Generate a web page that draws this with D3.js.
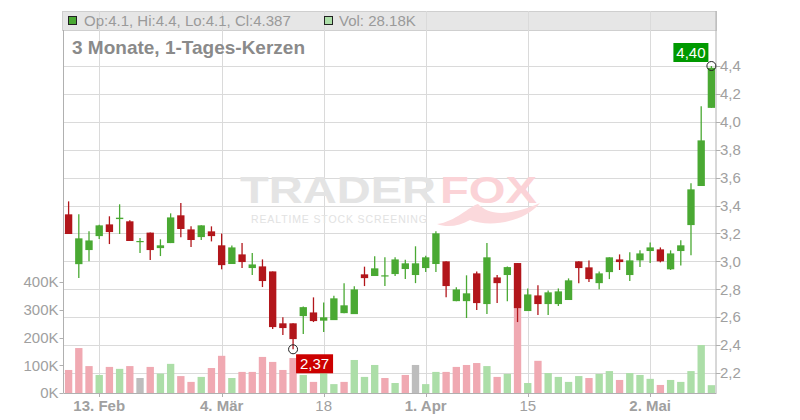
<!DOCTYPE html>
<html><head><meta charset="utf-8">
<script src="https://cdn.jsdelivr.net/npm/d3@7/dist/d3.min.js"></script>
<style>body{margin:0;background:#fff}svg{display:block;font-family:"Liberation Sans",Arial,sans-serif}</style>
</head><body><svg id="c" width="800" height="420"></svg>
<script>
const opens  = [3.337,2.98,3.081,3.181,3.265,3.303,3.287,3.14,3.206,3.095,3.131,3.33,3.229,3.174,3.215,3.115,2.981,3.05,2.952,2.964,2.928,2.556,2.556,2.608,2.634,2.575,2.579,2.629,2.622,2.907,2.895,2.895,2.909,2.945,2.902,2.952,2.981,3.0,2.715,2.715,2.914,2.694,2.885,2.902,2.988,2.644,2.756,2.694,2.694,2.723,3.0,2.957,2.844,2.923,3.014,2.902,3.007,3.074,3.086,2.943,3.074,3.26,3.54,4.1];
const highs  = [3.43,3.337,3.215,3.263,3.323,3.409,3.294,3.167,3.206,3.158,3.344,3.418,3.251,3.258,3.251,3.199,3.113,3.131,3.06,3.014,2.928,2.599,2.556,2.677,2.742,2.706,2.754,2.844,2.821,2.962,3.036,3.029,3.029,3.012,3.108,3.041,3.215,3.0,2.814,2.9,2.928,3.131,2.902,2.964,2.988,2.806,2.828,2.792,2.806,2.878,3.0,3.007,2.928,3.029,3.05,3.065,3.079,3.136,3.1,3.079,3.151,3.559,4.111,4.4];
const lows   = [3.196,2.88,3.0,3.16,3.124,3.196,3.146,3.06,3.009,3.038,3.131,3.172,3.103,3.153,3.143,2.943,2.981,2.952,2.902,2.816,2.515,2.472,2.37,2.479,2.565,2.493,2.579,2.629,2.622,2.823,2.895,2.823,2.895,2.873,2.844,2.923,2.923,2.742,2.715,2.594,2.651,2.622,2.701,2.715,2.565,2.644,2.615,2.615,2.68,2.723,2.844,2.852,2.801,2.873,2.938,2.859,2.959,2.988,2.993,2.938,2.971,3.043,3.54,4.1];
const closes = [3.196,3.165,3.15,3.258,3.21,3.313,3.146,3.146,3.081,3.115,3.315,3.232,3.153,3.258,3.181,2.973,3.1,2.995,2.978,2.859,2.529,2.522,2.443,2.672,2.572,2.599,2.735,2.685,2.799,2.88,2.95,2.9,3.014,2.986,2.986,3.029,3.201,2.823,2.799,2.771,2.701,3.029,2.844,2.959,2.665,2.763,2.694,2.778,2.785,2.864,2.952,2.873,2.914,3.029,2.995,3.007,3.057,3.1,3.0,3.057,3.115,3.516,3.867,4.387];
const volumes = [83,162,97,65,94,87,97,54,94,70,105,61,40,58,90,134,54,76,76,130,112,83,126,65,40,72,32,40,119,58,101,54,36,65,101,32,76,76,94,101,108,97,58,69,450,36,116,72,58,40,61,54,69,79,47,72,65,51,29,47,40,79,173,28.18].map(v=>v*1000);
const xTickIndex = [3,15,25,35,45,57];
const xTickLabels = ["13. Feb","4. Mär","18","1. Apr","15","2. Mai"];
const xTickBold = [true,true,false,true,false,true];
const priceTicks = [2.2,2.4,2.6,2.8,3.0,3.2,3.4,3.6,3.8,4.0,4.2,4.4];
const volTicks = [0,100000,200000,300000,400000];
const headerText = "Op:4.1, Hi:4.4, Lo:4.1, Cl:4.387";
const volText = "Vol: 28.18K";
const titleText = "3 Monate, 1-Tages-Kerzen";
const lowLabel = {i:22, v:2.37, text:"2,37"};
const highLabel = {i:63, v:4.40, text:"4,40"};

const n = closes.length;
const svg = d3.select("#c");
const L = 63.5, R = 716.5, TOP = 11, BOT = 393;
const x = d3.scaleBand().domain(d3.range(n)).range([L, R]).paddingInner(0.28).paddingOuter(0.14);
const y = d3.scaleLinear().domain([2.2, 4.4]).range([373, 66]);
const yv = d3.scaleLinear().domain([0, 400000]).range([BOT, 282]);
const cx = i => x(i) + x.bandwidth()/2;
const GREEN = "#4aa933", RED = "#b2161b";
const gridC = "#dadada", axisC = "#b0b0b0", txtC = "#a0a0a0";

// header band
svg.append("rect").attr("x", 62.5).attr("y", TOP+0.5).attr("width", R-62.5).attr("height", 19)
  .attr("fill", "#e6e6e6").attr("stroke", "#cfcfcf");

// grid
svg.append("g").selectAll("line").data(priceTicks).join("line")
  .attr("x1", L).attr("x2", R).attr("y1", d=>Math.round(y(d))+0.5).attr("y2", d=>Math.round(y(d))+0.5)
  .attr("stroke", gridC);
svg.append("g").selectAll("line").data(xTickIndex).join("line")
  .attr("x1", d=>Math.round(cx(d))+0.5).attr("x2", d=>Math.round(cx(d))+0.5)
  .attr("y1", TOP).attr("y2", BOT).attr("stroke", gridC);

// watermark
const wm = svg.append("g");
wm.append("text").attr("x", 240).attr("y", 203).attr("font-size", 37).attr("font-weight", "bold")
  .attr("fill", "#e4e4e4").attr("textLength", 196).attr("lengthAdjust", "spacingAndGlyphs").text("TRADER");
wm.append("text").attr("x", 440).attr("y", 203).attr("font-size", 37).attr("font-weight", "bold")
  .attr("fill", "#fbd3d7").attr("textLength", 97).attr("lengthAdjust", "spacingAndGlyphs").text("FOX");
wm.append("path").attr("d", "M437,224 C455,222 470,206 478,204 C488,214 505,218 540,203 C525,222 490,228 470,220 C460,226 447,228 437,224 Z")
  .attr("fill", "#fbd9dc");
wm.append("text").attr("x", 251).attr("y", 223).attr("font-size", 10.5).attr("fill", "#e2e2e2")
  .attr("textLength", 176).attr("lengthAdjust", "spacing").text("REALTIME STOCK SCREENING");

// volume bars
svg.append("g").selectAll("rect").data(volumes).join("rect")
  .attr("x", (d,i)=>x(i)).attr("width", x.bandwidth())
  .attr("y", d=>yv(d)).attr("height", d=>BOT-yv(d))
  .attr("fill", (d,i)=>{
    const ref = i===0 ? opens[0] : closes[i-1];
    const diff = closes[i]-ref;
    return Math.abs(diff) < 0.0005 ? "#bdbdbd" : diff > 0 ? "#acdea8" : "#f0a9b2";
  });

// candles
const cg = svg.append("g");
d3.range(n).forEach(i=>{
  const up = closes[i] >= opens[i];
  const col = up ? GREEN : RED;
  cg.append("line").attr("x1", cx(i)).attr("x2", cx(i)).attr("y1", y(highs[i])).attr("y2", y(lows[i]))
    .attr("stroke", col).attr("stroke-width", 1.3);
  const top = y(Math.max(opens[i], closes[i])), bot = y(Math.min(opens[i], closes[i]));
  cg.append("rect").attr("x", x(i)).attr("width", x.bandwidth()).attr("y", top).attr("height", Math.max(1.2, bot-top))
    .attr("fill", col);
});

// axes
svg.append("line").attr("x1", L).attr("x2", L).attr("y1", 30).attr("y2", BOT).attr("stroke", axisC);
svg.append("line").attr("x1", R-0.5).attr("x2", R-0.5).attr("y1", TOP).attr("y2", BOT).attr("stroke", axisC);
svg.append("line").attr("x1", L).attr("x2", R).attr("y1", BOT+0.5).attr("y2", BOT+0.5).attr("stroke", axisC);

// right price axis
const pa = svg.append("g");
pa.selectAll("line").data(priceTicks).join("line")
  .attr("x1", R-0.5).attr("x2", R+4).attr("y1", d=>Math.round(y(d))+0.5).attr("y2", d=>Math.round(y(d))+0.5).attr("stroke", axisC);
pa.selectAll("text").data(priceTicks).join("text")
  .attr("x", 720).attr("y", d=>y(d)).attr("dy", "0.35em").attr("font-size", 15).attr("fill", txtC)
  .text(d=>d3.format(".1f")(d).replace(".", ","));

// left volume axis
const va = svg.append("g");
va.selectAll("line").data(volTicks).join("line")
  .attr("x1", L-4).attr("x2", L).attr("y1", d=>Math.round(yv(d))+0.5).attr("y2", d=>Math.round(yv(d))+0.5).attr("stroke", axisC);
va.selectAll("text").data(volTicks).join("text")
  .attr("x", 58.5).attr("y", d=>yv(d)).attr("dy", "0.35em").attr("text-anchor", "end").attr("font-size", 15).attr("fill", txtC)
  .text(d=>(d/1000)+"K");

// bottom axis
const xa = svg.append("g");
xa.selectAll("line").data(xTickIndex).join("line")
  .attr("x1", d=>Math.round(cx(d))+0.5).attr("x2", d=>Math.round(cx(d))+0.5).attr("y1", BOT).attr("y2", BOT+4).attr("stroke", axisC);
xa.selectAll("text").data(xTickIndex).join("text")
  .attr("x", d=>cx(d)).attr("y", 411).attr("text-anchor", "middle").attr("font-size", 15)
  .attr("font-weight", (d,k)=>xTickBold[k] ? "bold" : "normal").attr("fill", txtC)
  .text((d,k)=>xTickLabels[k]);

// header content
svg.append("rect").attr("x", 68.5).attr("y", 16.5).attr("width", 8).attr("height", 8).attr("fill", GREEN).attr("stroke", "#222");
svg.append("text").attr("x", 84).attr("y", 26).attr("font-size", 15).attr("fill", "#9a9a9a").text(headerText);
svg.append("rect").attr("x", 324.5).attr("y", 16.5).attr("width", 8).attr("height", 8).attr("fill", "#acdea8").attr("stroke", "#222");
svg.append("text").attr("x", 339).attr("y", 26).attr("font-size", 15).attr("fill", "#9a9a9a").text(volText);
svg.append("text").attr("x", 72).attr("y", 53.5).attr("font-size", 19).attr("font-weight", "bold").attr("fill", "#8a8a8a").text(titleText);

// markers and labels
[lowLabel, highLabel].forEach(l=>{
  svg.append("circle").attr("cx", cx(l.i)).attr("cy", y(l.v)).attr("r", 4.5).attr("fill", "none").attr("stroke", "#222").attr("stroke-width", 1);
});
svg.append("rect").attr("x", cx(lowLabel.i)+3).attr("y", y(lowLabel.v)+5).attr("width", 37).attr("height", 19).attr("fill", "#cc0000");
svg.append("text").attr("x", cx(lowLabel.i)+21.5).attr("y", y(lowLabel.v)+20).attr("text-anchor", "middle").attr("font-size", 15).attr("fill", "#fff").text(lowLabel.text);
svg.append("rect").attr("x", cx(highLabel.i)-38).attr("y", y(highLabel.v)-23).attr("width", 35).attr("height", 19).attr("fill", "#009900");
svg.append("text").attr("x", cx(highLabel.i)-20.5).attr("y", y(highLabel.v)-8).attr("text-anchor", "middle").attr("font-size", 15).attr("fill", "#fff").text(highLabel.text);
</script></body></html>
